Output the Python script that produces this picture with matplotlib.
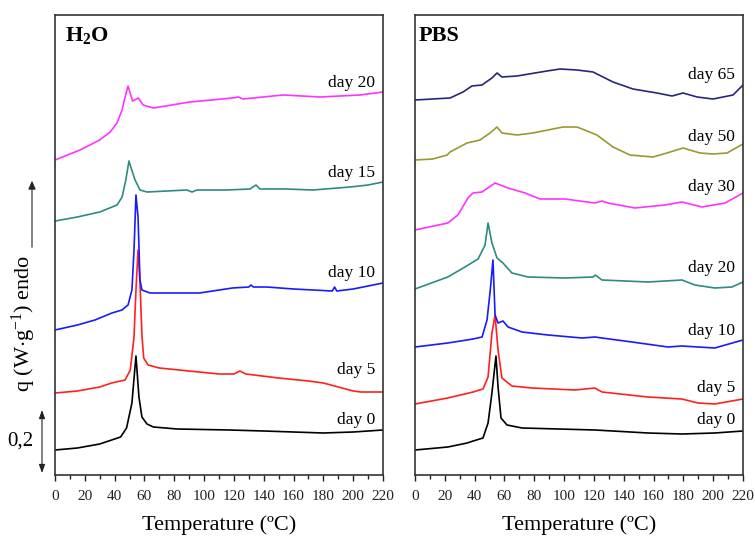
import matplotlib
matplotlib.use("Agg")
import matplotlib.pyplot as plt
from matplotlib.ticker import MultipleLocator
import matplotlib.transforms as mtransforms

plt.rcParams['font.family'] = ['Liberation Serif', 'DejaVu Serif']
plt.rcParams['mathtext.fontset'] = 'custom'
plt.rcParams['mathtext.rm'] = 'Liberation Serif'
plt.rcParams['mathtext.bf'] = 'Liberation Serif:bold'
plt.rcParams['mathtext.it'] = 'Liberation Serif:italic'

# ---------------- data (stacked heat flow, arbitrary offset units; 63 units = 0.2 W/g) ----------
# H2O panel
h2o_d0_T = [0, 15, 30, 36, 40, 44, 48, 51.6, 54.3, 56.3, 58.3, 61.7, 66, 82, 117, 140, 160, 180, 200, 220]
h2o_d0_q = [25, 27, 31, 34, 36, 38, 47, 72, 119, 78, 58, 51, 48, 46, 45, 44, 43, 42, 43, 45]

h2o_d5_T = [0, 15, 30, 38, 41, 47, 50.5, 53, 54.3, 55.7, 57, 58.3, 59.5, 62.4, 70, 90, 110, 120, 124, 128,
            150, 170, 180, 190, 200, 205, 210, 220]
h2o_d5_q = [82, 84, 88, 92, 93, 95, 105, 138, 185, 225, 192, 140, 117, 110, 107, 104, 101, 101, 104, 101,
            97, 94, 92, 88, 84, 83, 83, 83]

h2o_d10_T = [0, 15, 26.8, 38.2, 44.9, 49, 51.6, 53, 54.3, 55.7, 57, 58.3, 63.7, 80, 97, 119, 130, 131.5,
             133, 142, 160, 186, 187.5, 189, 200, 220]
h2o_d10_q = [145, 150, 155, 162, 165, 170, 185, 225, 280, 258, 195, 185, 182, 182, 182, 187, 188, 190,
             188, 188, 186, 184, 188, 184, 186, 192]

h2o_d15_T = [0, 15, 30, 41.6, 45, 47.5, 49.6, 51.5, 53.7, 57, 61.7, 75, 88.5, 91.9, 95.2, 115, 130.8,
             134.8, 137.5, 155, 173, 198, 210, 220]
h2o_d15_q = [254, 258, 263, 270, 278, 295, 314, 305, 295, 285, 283, 284, 285, 283, 285, 285, 286,
             290, 286, 286, 285, 288, 290, 293]

h2o_d20_T = [0, 16.8, 30, 37, 41.6, 45, 47, 49, 52, 56, 59, 66, 90.5, 119, 123, 126, 153, 178, 204.5, 220]
h2o_d20_q = [315, 325, 335, 343, 352, 365, 378, 389, 374, 377, 370, 367, 373, 377, 378, 376, 380, 378,
             380, 383]

# PBS panel
pbs_d0_T = [0, 22, 35, 39, 45.6, 49, 51.6, 54.3, 55.7, 57.7, 61.7, 71.8, 120.7, 156.3, 179, 201, 220]
pbs_d0_q = [25, 28, 32, 34, 37, 52, 82, 119, 88, 57, 50, 47, 45, 42, 41, 42, 44]

pbs_d5_T = [0, 22, 39, 45.6, 49, 51.6, 53.7, 55.7, 58.3, 65, 78.5, 107.3, 120.7, 125.4, 156.3, 179,
            189.8, 201, 220]
pbs_d5_q = [71, 77, 83, 86, 98, 142, 160, 125, 97, 89, 87, 85, 87, 83, 78, 76, 72, 71, 76]

pbs_d10_T = [0, 22, 39, 45, 48.3, 50.5, 52.3, 53.7, 55.7, 59, 62.4, 71.8, 89.2, 112, 120.7, 125.4,
             145.5, 169.7, 179, 201, 220]
pbs_d10_q = [128, 132, 136, 138, 155, 185, 215, 160, 152, 154, 148, 143, 140, 137, 138, 137,
             133, 128, 129, 127, 135]

pbs_d20_T = [0, 22, 33.5, 42.3, 47, 49, 51.6, 55, 59, 65, 75.8, 100.6, 119.4, 121, 125.4, 156.3, 179,
             187.8, 201, 212.6, 220]
pbs_d20_q = [186, 198, 208, 216, 230, 252, 232, 217, 212, 202, 198, 197, 198, 200, 195, 193, 195,
             190, 187, 188, 193]

pbs_d30_T = [0, 22, 28.8, 35.5, 38.9, 44.9, 53.7, 62.4, 73.8, 83.8, 100.6, 120.7, 125.4, 129.5, 147.5,
             167.6, 179, 192.5, 208, 220]
pbs_d30_q = [245, 252, 260, 277, 282, 283, 292, 287, 282, 276, 276, 272, 274, 272, 267,
             270, 273, 268, 272, 282]

pbs_d50_T = [0, 12, 21.5, 23.5, 34.9, 43.6, 50.3, 55, 58.3, 68.4, 79, 99.3, 108.7, 122, 132.8, 144.2,
             159.6, 169, 179.8, 191.2, 199.9, 209.3, 220]
pbs_d50_q = [315, 316, 320, 323, 332, 335, 342, 348, 342, 340, 342, 348, 348, 340, 328, 320,
             318, 322, 327, 322, 321, 322, 331]

pbs_d65_T = [0, 23.5, 32.2, 38.2, 44.9, 51.6, 55, 58.3, 68.4, 88.5, 97.3, 108.7, 119.4, 132.8, 146.2,
             162.3, 172.4, 179.8, 189.2, 199.9, 213.3, 220]
pbs_d65_q = [375, 377, 383, 389, 390, 397, 402, 398, 399, 404, 406, 405, 403, 393, 386,
             382, 379, 382, 378, 376, 380, 390]

h2o_labels = ['day 0', 'day 5', 'day 10', 'day 15', 'day 20']
h2o_label_q = [55, 105, 202, 302, 392]
pbs_labels = ['day 0', 'day 5', 'day 10', 'day 20', 'day 30', 'day 50', 'day 65']
pbs_label_q = [55, 87, 144, 207, 288, 338, 400]

xticks = [0, 20, 40, 60, 80, 100, 120, 140, 160, 180, 200, 220]
scale_value = '0,2'
scale_len = 63  # units corresponding to 0.2 W/g

# ---------------- styling ----------------
c_black = '#000000'
c_red = '#ff2020'
c_blue = '#1a1aff'
c_teal = '#2e8b80'
c_mag = '#ff33ff'
c_olive = '#999933'
c_navy = '#262680'

h2o_series = [(h2o_d0_T, h2o_d0_q, c_black), (h2o_d5_T, h2o_d5_q, c_red),
              (h2o_d10_T, h2o_d10_q, c_blue), (h2o_d15_T, h2o_d15_q, c_teal),
              (h2o_d20_T, h2o_d20_q, c_mag)]
pbs_series = [(pbs_d0_T, pbs_d0_q, c_black), (pbs_d5_T, pbs_d5_q, c_red),
              (pbs_d10_T, pbs_d10_q, c_blue), (pbs_d20_T, pbs_d20_q, c_teal),
              (pbs_d30_T, pbs_d30_q, c_mag), (pbs_d50_T, pbs_d50_q, c_olive),
              (pbs_d65_T, pbs_d65_q, c_navy)]

W, H = 755, 542
fig = plt.figure(figsize=(W / 100, H / 100), dpi=100)

def make_ax(x0px):
    ax = fig.add_axes([x0px / W, 1 - 475 / H, 328 / W, 460 / H])
    ax.set_xlim(0, 220)
    ax.set_ylim(0, 460)
    ax.set_yticks([])
    ax.set_xticks(xticks)
    ax.xaxis.set_minor_locator(MultipleLocator(10))
    ax.tick_params(axis='x', which='major', direction='out', length=4.5, width=1.0,
                   labelsize=11, pad=6, colors='#222222')
    ax.tick_params(axis='x', which='minor', direction='out', length=3, width=1.0, colors='#222222')
    for s in ax.spines.values():
        s.set_linewidth(1.2)
        s.set_color('#333333')
    ax.set_xlabel('Temperature (ºC)', fontsize=16, labelpad=9)
    return ax

axL = make_ax(55)
axR = make_ax(415)

for T, q, c in h2o_series:
    axL.plot(T, q, color=c, lw=1.2, solid_joinstyle='round')
for T, q, c in pbs_series:
    axR.plot(T, q, color=c, lw=1.2, solid_joinstyle='round')

for lab, q in zip(h2o_labels, h2o_label_q):
    axL.text(214.5, q, lab, fontsize=12.5, ha='right', va='center')
for lab, q in zip(pbs_labels, pbs_label_q):
    axR.text(214.5, q, lab, fontsize=12.5, ha='right', va='center')

axL.text(0.03, 0.955, r'H$_\mathbf{2}$O', transform=axL.transAxes, fontsize=16,
         fontweight='bold', ha='left', va='center')
axR.text(0.012, 0.955, 'PBS', transform=axR.transAxes, fontsize=16,
         fontweight='bold', ha='left', va='center')

# y label and arrow
fig.text(24 / W, 1 - 323 / H, r'q (W$\cdot$g$^{\mathrm{-1}}$) endo', rotation=90, fontsize=16,
         ha='center', va='center')
fig.add_artist(matplotlib.patches.FancyArrowPatch((32 / W, 1 - 250 / H), (32 / W, 1 - 178 / H),
               transform=fig.transFigure, arrowstyle='-|>,head_length=5,head_width=2.2',
               lw=0.8, color='#222222', mutation_scale=1))

# scale bar
trans = mtransforms.blended_transform_factory(fig.transFigure, axL.transData)
axL.annotate('', xy=(42 / W, 2), xytext=(42 / W, 2 + scale_len), xycoords=trans, textcoords=trans,
             arrowprops=dict(arrowstyle='<|-|>,head_length=0.5,head_width=0.18', lw=0.8,
                             color='#222222', shrinkA=0, shrinkB=0), annotation_clip=False)
axL.text(20 / W, 2 + scale_len / 2, scale_value, transform=trans, fontsize=15,
         ha='center', va='center')

fig.savefig('out.png', dpi=100)
